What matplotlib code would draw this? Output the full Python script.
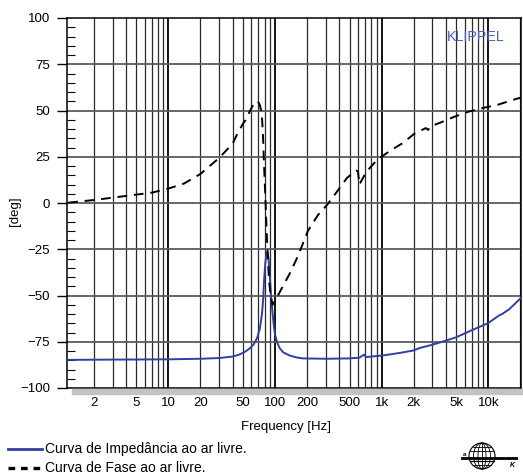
import numpy as np
import matplotlib
matplotlib.use("Agg")
import matplotlib.pyplot as plt
from matplotlib.patches import Rectangle, Circle, Ellipse
from matplotlib.lines import Line2D

# Curva de impedancia (azul)
imp_freq = [1.15, 2, 5, 10, 20, 30, 40, 46, 52, 58, 63, 68, 72, 75.5, 77.5, 79, 81, 83, 85,
            87, 89, 91, 94, 97, 100, 105, 111, 120, 138, 160, 183, 300, 500, 620, 660, 690,
            710, 800, 1000, 1500, 2000, 2270, 3000, 4000, 5000, 7000, 10000, 12700, 13500,
            15700, 20300]
imp_val = [-84.8, -84.7, -84.6, -84.5, -84.2, -83.8, -83.0, -82.0, -80.5, -78.6, -76.5, -73.0,
           -68.0, -60.0, -52.0, -42.0, -33.0, -28.0, -26.5, -30.0, -37.0, -47.0, -57.0, -65.0,
           -71.0, -75.5, -78.6, -80.8, -82.5, -83.5, -84.0, -84.2, -84.0, -83.6, -82.5, -82.0,
           -83.3, -83.0, -82.5, -81.0, -79.7, -78.4, -76.6, -74.4, -72.6, -68.8, -64.9, -60.7,
           -60.0, -57.5, -51.3]

# Curva de fase (tracejada)
fase_freq = [1.15, 2, 4, 7, 10, 14, 20, 30, 40, 44, 50, 52.5, 61, 66, 69, 72, 75, 77, 79, 81,
             84, 88, 91.5, 95, 100, 116, 138, 164, 204, 253, 308, 380, 474, 580, 600, 620, 660,
             731, 907, 1200, 1590, 2020, 2600, 2730, 2900, 3540, 4800, 6470, 9140, 12300,
             17200, 20300]
fase_val = [0.2, 1.6, 3.8, 5.6, 7.8, 10.5, 15.7, 24.4, 32.0, 37.0, 42.8, 44.5, 52.0, 54.5, 55.0,
            53.0, 49.0, 38.0, 20.0, 5.0, -19.0, -42.0, -51.0, -55.0, -53.0, -46.0, -38.0, -28.7,
            -15.0, -6.5, -1.0, 6.0, 13.6, 17.5, 17.0, 10.0, 13.0, 17.3, 23.3, 28.2, 32.5, 37.4,
            40.5, 39.5, 41.5, 43.4, 46.6, 49.3, 51.5, 53.1, 55.8, 57.0]

xtick_vals = [2, 5, 10, 20, 50, 100, 200, 500, 1000, 2000, 5000, 10000]
xtick_labels = ["2", "5", "10", "20", "50", "100", "200", "500", "1k", "2k", "5k", "10k"]
ytick_vals = [-100, -75, -50, -25, 0, 25, 50, 75, 100]

W, H = 523, 475
BLUE = "#3140a0"
plt.rcParams["font.family"] = ["Liberation Sans", "DejaVu Sans"]

fig = plt.figure(figsize=(W / 100, H / 100), dpi=100)


def px(x0, y0, x1, y1):
    """rectangulo em pixels (topo-esquerda) -> coordenadas da figura"""
    return [x0 / W, 1 - y1 / H, (x1 - x0) / W, (y1 - y0) / H]


ax = fig.add_axes(px(67, 18, 521, 388))
ax.set_xscale("log")
ax.set_xlim(1.12, 20300)
ax.set_ylim(-100, 100)

# grade
for dec in [1, 10, 100, 1000, 10000]:
    for m in range(1, 10):
        f = dec * m
        if f <= 1.12 or f >= 20300:
            continue
        if m == 1:
            ax.axvline(f, color="black", lw=1.3, zorder=1)
        else:
            ax.axvline(f, color="#2a2a2a", lw=0.9, zorder=1)
for yv in ytick_vals[1:-1]:
    ax.axhline(yv, color="#5a5a5a", lw=1.3, zorder=1)

ax.plot(imp_freq, imp_val, color=BLUE, lw=1.4, zorder=3)
ax.plot(fase_freq, fase_val, color="black", lw=1.4, ls=(0, (5, 3.5)), zorder=3)

ax.set_xticks(xtick_vals)
ax.set_xticklabels(xtick_labels)
ax.xaxis.set_minor_locator(matplotlib.ticker.NullLocator())
ax.tick_params(axis="x", length=0, pad=6.5, labelsize=9.5)
ax.set_yticks(ytick_vals)
ax.set_yticks(np.arange(-95, 100, 5), minor=True)
ax.tick_params(axis="y", which="major", length=7, width=1, direction="out", labelsize=9.5, pad=5)
ax.tick_params(axis="y", which="minor", length=6, width=0.8, direction="in")
for s in ax.spines.values():
    s.set_linewidth(1.1)

fig.text(286 / W, 1 - 427 / H, "Frequency [Hz]", fontsize=9.5, ha="center", va="center")
fig.text(15 / W, 1 - 211 / H, "[deg]", fontsize=9.5, ha="center", va="center", rotation=90)

fig.text(447 / W, 1 - 37 / H, "KLIPPEL", color="#4a63b5", fontsize=10.3, va="center", ha="left")

# sombra cinza abaixo do grafico
fig.patches.append(Rectangle((72 / W, 1 - 394 / H), (523 - 72) / W, 5.5 / H,
                             transform=fig.transFigure, color="#c3c3c3", zorder=0))

# legenda
fig.add_artist(Line2D([8 / W, 42 / W], [1 - 449 / H] * 2, color=BLUE, lw=2))
fig.text(45 / W, 1 - 449 / H, "Curva de Impedância ao ar livre.", fontsize=10, va="center")
fig.add_artist(Line2D([8 / W, 40 / W], [1 - 468 / H] * 2, color="black", lw=2.4,
                      ls=(0, (2, 1.75))))
fig.text(45 / W, 1 - 468 / H, "Curva de Fase ao ar livre.", fontsize=10, va="center")

# logotipo (globo)
lg = fig.add_axes(px(455, 440, 521, 474))
lg.set_xlim(-33, 33)
lg.set_ylim(-17, 17)
lg.set_aspect("equal")
lg.axis("off")
cx, cy, r = -6, 1, 13
lg.add_patch(Circle((cx, cy), r, fill=False, lw=0.8, color="black"))
for w in [4, 8.5]:
    lg.add_patch(Ellipse((cx, cy), 2 * w, 2 * r, fill=False, lw=0.6, color="black"))
lg.plot([cx, cx], [cy - r, cy + r], color="black", lw=0.6)
for dy in [-9, -5, 5, 9]:
    hw = np.sqrt(r ** 2 - dy ** 2)
    lg.plot([cx - hw, cx + hw], [cy + dy, cy + dy], color="black", lw=0.6)
lg.plot([-26, 28], [-1, -1], color="black", lw=2.0)
lg.plot([-18, 6], [-4, -4], color="black", lw=0.9)
lg.text(-23, 0.5, "a", fontsize=4.5, weight="bold", ha="center", va="bottom")
lg.text(24, -5, "K", fontsize=5, weight="bold", style="italic", ha="center", va="top")

fig.savefig("out.png", dpi=100)
